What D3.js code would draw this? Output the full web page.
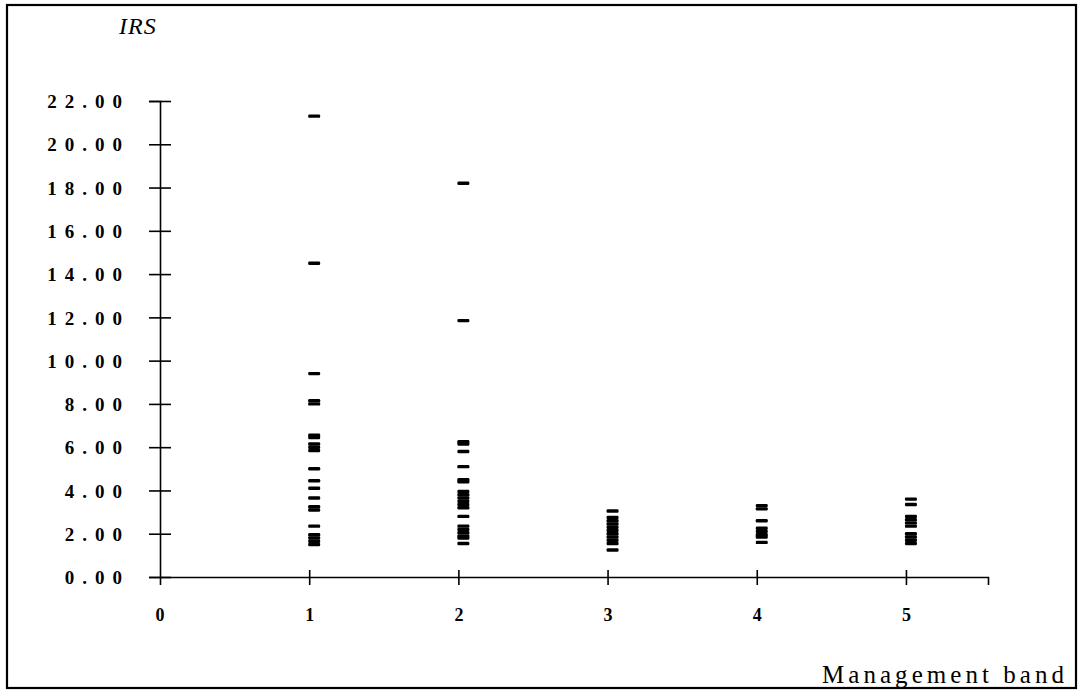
<!DOCTYPE html>
<html>
<head>
<meta charset="utf-8">
<script src="https://cdn.jsdelivr.net/npm/d3@7"></script>
<style>
  html, body { margin: 0; padding: 0; background: #fff; }
  svg { display: block; }
  .ytick text { font-family: "Liberation Serif", "Times New Roman", serif; font-weight: bold; font-size: 19px; letter-spacing: 8px; }
  .xtick text { font-family: "Liberation Serif", "Times New Roman", serif; font-weight: bold; font-size: 18px; }
</style>
</head>
<body>
<script>
// Management band of each firm and its IRS score
const band1 = [21.3, 14.5, 9.4, 8.15, 8.0, 6.55, 6.45, 6.15, 6.0, 5.85, 5.0, 4.45, 4.1, 3.65, 3.25, 3.1, 2.35, 1.95, 1.8, 1.65, 1.5];
const band2 = [18.2, 11.85, 6.25, 6.15, 5.8, 5.1, 4.5, 4.4, 3.95, 3.8, 3.65, 3.5, 3.35, 3.2, 2.8, 2.35, 2.2, 2.05, 1.9, 1.8, 1.55];
const band3 = [3.05, 2.75, 2.6, 2.45, 2.3, 2.15, 2.0, 1.85, 1.7, 1.55, 1.25];
const band4 = [3.3, 3.15, 2.6, 2.25, 2.1, 1.95, 1.85, 1.6];
const band5 = [3.6, 3.35, 2.8, 2.65, 2.5, 2.35, 2.0, 1.85, 1.7, 1.55];
const bands = [1, 2, 3, 4, 5];
const bandValues = [band1, band2, band3, band4, band5];
const xTickLabels = ["0", "1", "2", "3", "4", "5"];
const yTicks = [0, 2, 4, 6, 8, 10, 12, 14, 16, 18, 20, 22];

const W = 1083, H = 692;
const svg = d3.select("body").append("svg").attr("width", W).attr("height", H);

// outer frame
svg.append("rect")
  .attr("x", 7).attr("y", 5).attr("width", 1069).attr("height", 683)
  .attr("fill", "none").attr("stroke", "#000").attr("stroke-width", 2.2);

const x = d3.scaleLinear().domain([0, 5.55]).range([160, 988]);
const y = d3.scaleLinear().domain([0, 22]).range([577, 101]);

// y axis: ticks crossing the line, labels spaced out to the left
const yAxis = svg.append("g").attr("class", "ytick")
  .attr("transform", `translate(${x(0)},0)`)
  .call(d3.axisLeft(y).tickValues(yTicks).tickFormat(d3.format(".2f")).tickSizeOuter(0).tickSize(11).tickPadding(19));
yAxis.select(".domain").attr("stroke-width", 1.6);
yAxis.selectAll(".tick line").attr("x2", -11).attr("x1", 11).attr("stroke-width", 1.6);
yAxis.selectAll(".tick text").attr("fill", "#000").attr("dy", "0.35em");

// x axis
const xAxis = svg.append("g").attr("class", "xtick")
  .attr("transform", `translate(0,${y(0)})`)
  .call(d3.axisBottom(x).tickValues(d3.range(1, 6)).tickFormat(d => xTickLabels[d]).tickSizeOuter(0).tickSize(8).tickPadding(23));
xAxis.select(".domain").attr("stroke-width", 1.6);
xAxis.selectAll(".tick line").attr("y1", -7).attr("y2", 8).attr("stroke-width", 1.6);
xAxis.selectAll(".tick text").attr("fill", "#000");

// origin label
svg.append("text")
  .attr("x", x(0)).attr("y", y(0) + 44)
  .attr("text-anchor", "middle")
  .attr("font-family", "Liberation Serif, Times New Roman, serif")
  .attr("font-weight", "bold").attr("font-size", 18)
  .text(xTickLabels[0]);

// axis titles
svg.append("text")
  .attr("x", 119).attr("y", 34)
  .attr("font-family", "Liberation Serif, Times New Roman, serif")
  .attr("font-style", "italic").attr("font-size", 24)
  .attr("letter-spacing", 1)
  .text("IRS");
svg.append("text")
  .attr("x", 822).attr("y", 683)
  .attr("font-family", "Liberation Serif, Times New Roman, serif")
  .attr("font-size", 25)
  .attr("textLength", 242)
  .attr("lengthAdjust", "spacing")
  .text("Management band");

// dash markers
const points = bands.flatMap((b, i) => bandValues[i].map(v => ({ band: b, value: v })));
svg.append("g").selectAll("rect").data(points).join("rect")
  .attr("x", d => x(d.band) - 1)
  .attr("y", d => y(d.value) - 1.7)
  .attr("width", 12).attr("height", 3.4)
  .attr("rx", 1.2)
  .attr("fill", "#000");
</script>
</body>
</html>
